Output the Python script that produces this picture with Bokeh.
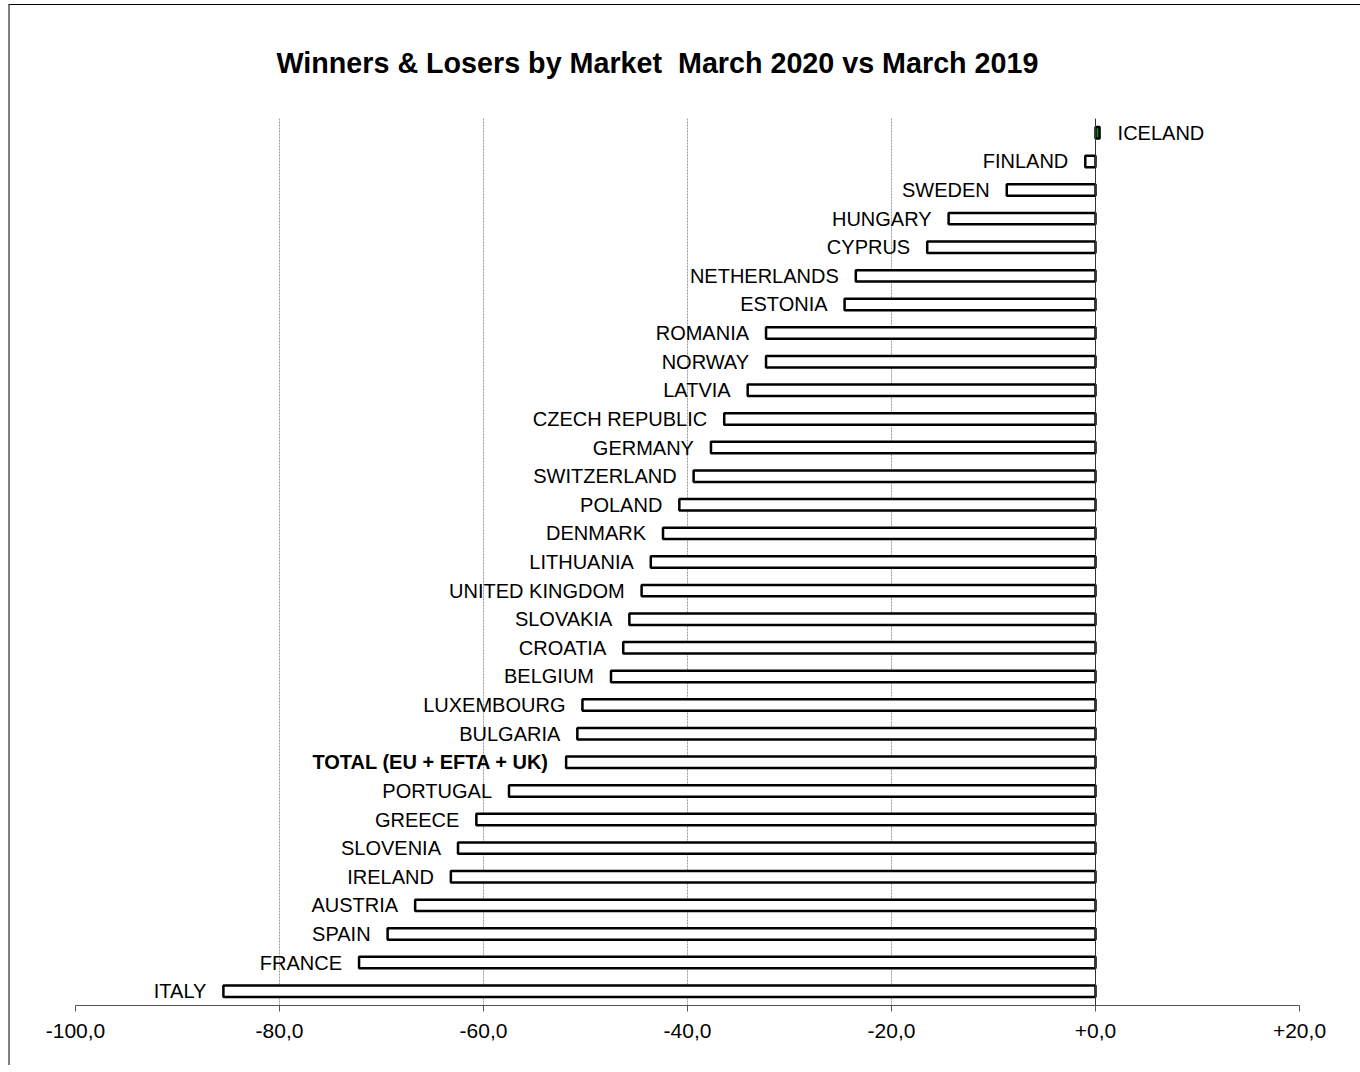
from bokeh.plotting import figure
from bokeh.models import ColumnDataSource, Span, FixedTicker, Title
from bokeh.core.properties import value
from bokeh.embed import file_html
from bokeh.resources import INLINE

markets = ["ICELAND", "FINLAND", "SWEDEN", "HUNGARY", "CYPRUS", "NETHERLANDS", "ESTONIA",
           "ROMANIA", "NORWAY", "LATVIA", "CZECH REPUBLIC", "GERMANY", "SWITZERLAND", "POLAND",
           "DENMARK", "LITHUANIA", "UNITED KINGDOM", "SLOVAKIA", "CROATIA", "BELGIUM",
           "LUXEMBOURG", "BULGARIA", "TOTAL (EU + EFTA + UK)", "PORTUGAL", "GREECE", "SLOVENIA",
           "IRELAND", "AUSTRIA", "SPAIN", "FRANCE", "ITALY"]
change = [0.4, -1.0, -8.7, -14.4, -16.5, -23.5, -24.6,
          -32.3, -32.3, -34.1, -36.4, -37.7, -39.4, -40.8,
          -42.4, -43.6, -44.5, -45.7, -46.3, -47.5,
          -50.3, -50.8, -51.9, -57.5, -60.7, -62.5,
          -63.2, -66.7, -69.4, -72.2, -85.5]
x_ticks = [-100, -80, -60, -40, -20, 0, 20]
x_tick_labels = ["-100,0", "-80,0", "-60,0", "-40,0", "-20,0", "+0,0", "+20,0"]
title_text = "Winners & Losers by Market \u00a0March 2020 vs March 2019"

factors = list(reversed(markets))

fill = ["#00A000" if v > 0 else "white" for v in change]
align = ["left" if v > 0 else "right" for v in change]
offs = [18 if v > 0 else -17 for v in change]
styles = ["bold" if m.startswith("TOTAL") else "normal" for m in markets]

src = ColumnDataSource(dict(m=markets, v=change, fill=fill, align=align, offs=offs, style=styles))

FW, FH = 1224, 887
p = figure(frame_width=FW, frame_height=FH, y_range=factors, x_range=(-100, 20),
           output_backend="svg", toolbar_location=None,
           min_border_left=65, min_border_right=61, min_border_top=113, min_border_bottom=60)
p.outline_line_color = None
p.styles = {"margin-left": "8px", "margin-top": "4px",
            "border-left": "2px solid #808080", "border-top": "1px solid #000000"}

p.add_layout(Title(text=title_text, align="left", offset=201, standoff=79,
                   text_font="Liberation Sans", text_font_size="28.7px", text_font_style="bold",
                   text_color="black"), "above")

p.hbar(y="m", left=0, right="v", height=0.4, source=src,
       fill_color="fill", line_color="black", line_width=2.5)
p.text(x="v", y="m", text="m", source=src, x_offset="offs", text_align="align",
       text_baseline="middle", text_font=value("Liberation Sans"), text_font_size="20px",
       text_font_style="style", text_color="black")

p.add_layout(Span(location=0, dimension="height", line_color="#333333", line_width=1))

p.yaxis.visible = False
p.ygrid.grid_line_color = None
p.xgrid.grid_line_color = "#999999"
p.xgrid.grid_line_dash = "2 1"
p.xgrid.grid_line_width = 1

p.xaxis.ticker = FixedTicker(ticks=x_ticks)
p.xaxis.major_label_overrides = {t_: l for t_, l in zip(x_ticks, x_tick_labels)}
p.xaxis.axis_line_color = "#555555"
p.xaxis.major_tick_line_color = "#555555"
p.xaxis.major_tick_out = 6
p.xaxis.major_tick_in = 0
p.xaxis.minor_tick_line_color = None
p.xaxis.major_label_text_font = "Liberation Sans"
p.xaxis.major_label_text_font_size = "21px"
p.xaxis.major_label_text_color = "black"
p.xaxis.major_label_standoff = 12

open("out.html", "w").write(file_html(p, INLINE))
